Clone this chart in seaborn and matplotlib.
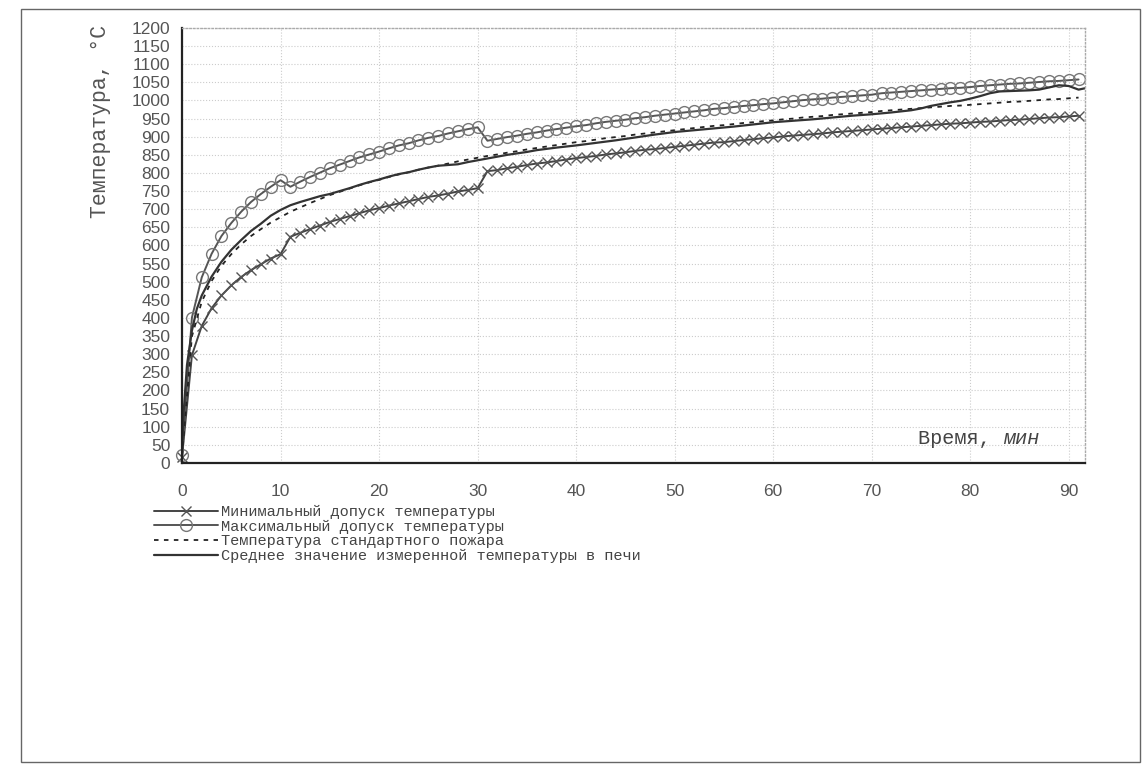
import numpy as np
import pandas as pd
import seaborn as sns
import matplotlib.pyplot as plt
from matplotlib.patches import Rectangle

# time, minutes (one point per minute for the tolerance and standard curves)
minutes = list(range(0, 92))

# standard fire temperature, °C
std_temp = [20, 349, 445, 502, 544, 576, 603, 626, 645, 663,
            678, 693, 705, 717, 728, 739, 748, 757, 766, 774,
            781, 789, 796, 802, 809, 815, 820, 826, 832, 837,
            842, 847, 851, 856, 860, 865, 869, 873, 877, 881,
            885, 888, 892, 896, 899, 902, 906, 909, 912, 915,
            918, 921, 924, 927, 930, 932, 935, 938, 940, 943,
            945, 948, 950, 953, 955, 957, 960, 962, 964, 966,
            968, 971, 973, 975, 977, 979, 981, 983, 985, 986,
            988, 990, 992, 994, 996, 997, 999, 1001, 1003, 1004,
            1006, 1008]

# minimal tolerance, °C
min_temp = [17, 297, 378, 427, 462, 490, 513, 532, 548, 564,
            576, 624, 635, 645, 655, 665, 673, 681, 689, 697,
            703, 710, 716, 722, 728, 734, 738, 743, 749, 753,
            758, 805, 808, 813, 817, 822, 826, 829, 833, 837,
            841, 844, 847, 851, 854, 857, 861, 864, 866, 869,
            872, 875, 878, 881, 884, 885, 888, 891, 893, 896,
            898, 901, 903, 905, 907, 909, 912, 914, 916, 918,
            920, 922, 924, 926, 928, 930, 932, 934, 936, 937,
            939, 941, 942, 944, 946, 947, 949, 951, 953, 954,
            956, 958]

# maximal tolerance, °C
max_temp = [23, 401, 512, 577, 626, 662, 693, 720, 742, 762,
            780, 762, 776, 789, 801, 813, 823, 833, 843, 851,
            859, 868, 876, 882, 890, 897, 902, 909, 915, 921,
            926, 889, 894, 899, 903, 908, 912, 917, 921, 925,
            929, 932, 937, 941, 944, 947, 951, 954, 958, 961,
            964, 967, 970, 973, 977, 979, 982, 985, 987, 990,
            992, 995, 998, 1001, 1003, 1005, 1008, 1010, 1012, 1014,
            1016, 1020, 1022, 1024, 1026, 1028, 1030, 1032, 1034, 1035,
            1037, 1040, 1042, 1044, 1046, 1047, 1049, 1051, 1053, 1054,
            1056, 1058]

# measured mean furnace temperature
mean_time = [0, 0.15, 0.5, 1, 1.5, 2, 3, 4, 5, 6, 7, 8, 9, 10, 11, 12, 13, 14,
             15, 16, 17, 18, 19, 20, 21, 22, 23, 24, 25, 26, 27, 28, 29, 30,
             31, 32, 33, 34, 35, 36, 38, 40, 42, 44, 46, 48, 50, 52, 54, 56,
             58, 60, 62, 64, 66, 68, 70, 72, 74, 75, 76, 77, 78, 79, 80, 81,
             82, 83, 84, 85, 86, 87, 88, 89, 90, 91, 91.7]
mean_temp = [20, 135, 270, 365, 425, 462, 514, 555, 588, 615, 640, 660, 682,
             698, 711, 720, 728, 736, 742, 750, 758, 767, 775, 782, 790, 797,
             802, 809, 815, 820, 822, 824, 830, 835, 840, 845, 850, 854, 858,
             863, 870, 876, 883, 890, 898, 906, 913, 918, 923, 928, 934, 940,
             944, 948, 953, 958, 962, 967, 973, 978, 985, 990, 995, 999, 1005,
             1012, 1020, 1025, 1026, 1027, 1028, 1030, 1036, 1042, 1040, 1030,
             1034]

labels = ['Минимальный допуск температуры',
          'Максимальный допуск температуры',
          'Температура стандартного пожара',
          'Среднее значение измеренной температуры в печи']

sns.set_style('white')
plt.rcParams['font.family'] = ['Liberation Mono', 'DejaVu Sans Mono']

fig = plt.figure(figsize=(11.45, 7.78), dpi=100)
ax = fig.add_axes([0.159, 0.405, 0.789, 0.559])

sns.lineplot(x=minutes, y=min_temp, ax=ax, color='#444444', lw=1.4,
             marker='x', markersize=7, markeredgewidth=1.0,
             markeredgecolor='#555555', label=labels[0], clip_on=False)
sns.lineplot(x=minutes, y=max_temp, ax=ax, color='#555555', lw=1.4,
             marker='o', markersize=8.5, markerfacecolor='none',
             markeredgewidth=1.0, markeredgecolor='#777777',
             label=labels[1], clip_on=False)
sns.lineplot(x=minutes, y=std_temp, ax=ax, color='#222222', lw=1.3,
             linestyle=(0, (2.5, 3)), label=labels[2])
sns.lineplot(x=mean_time, y=mean_temp, ax=ax, color='#333333', lw=1.6,
             label=labels[3])

ax.set_xlim(0, 91.7)
ax.set_ylim(0, 1200)
ax.set_xticks(range(0, 91, 10))
ax.set_yticks(range(0, 1201, 50))
ax.tick_params(axis='both', direction='out', length=5, width=1,
               color='#222222', labelcolor='#555555', labelsize=12.5)
for lab in ax.get_xticklabels() + ax.get_yticklabels():
    lab.set_fontfamily('Liberation Sans')
ax.tick_params(axis='x', pad=10)

ax.grid(True, linestyle=':', color='#cccccc', lw=0.8)
for side in ['left', 'bottom']:
    ax.spines[side].set_color('#222222')
    ax.spines[side].set_linewidth(1.6)
for side in ['top', 'right']:
    ax.spines[side].set_color('#aaaaaa')
    ax.spines[side].set_linestyle(':')
    ax.spines[side].set_linewidth(1.0)

ax.set_xlabel('')
ax.set_ylabel('')
t1 = ax.text(0.815, 0.055, 'Время, ', transform=ax.transAxes, fontsize=14.5,
             color='#444444', ha='left', va='center')
ax.annotate('мин', xy=(1, 0.5), xycoords=t1, fontsize=14.5, color='#444444',
            ha='left', va='center', style='italic')
fig.text(0.088, 0.968, 'Температура, °C', rotation=90, fontsize=15.5,
         color='#555555', ha='center', va='top')

ax.get_legend().remove()
handles, labs = ax.get_legend_handles_labels()
fig.legend(handles, labs, loc='upper left', bbox_to_anchor=(0.128, 0.361),
           frameon=False, fontsize=11, handlelength=4.2, handletextpad=0.2,
           labelspacing=0.05, borderpad=0, labelcolor='#444444')

fig.patches.append(Rectangle((0.018, 0.02), 0.978, 0.968, transform=fig.transFigure,
                             fill=False, edgecolor='#666666', lw=1.0))

plt.savefig('out.png', dpi=100)
